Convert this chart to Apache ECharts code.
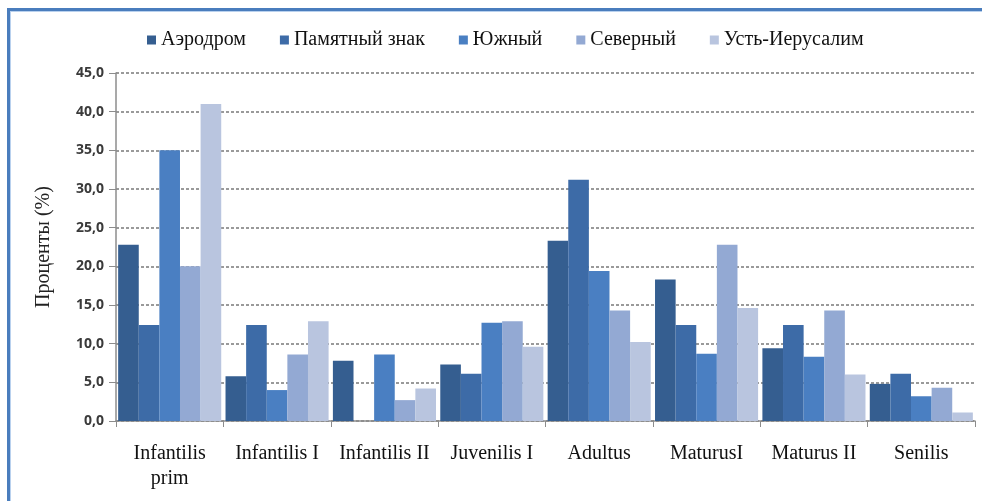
<!DOCTYPE html>
<html>
<head>
<meta charset="utf-8">
<script src="https://cdn.jsdelivr.net/npm/echarts@6/dist/echarts.min.js"></script>
<style>
    html, body { margin: 0; padding: 0; background: #fff; }
    #frame {
        position: absolute; left: 7px; top: 8px; width: 990px; height: 500px;
        border-top: 3px solid #4a7dbd; border-left: 3px solid #4a7dbd;
        box-shadow: inset 1px 1px 0 #b9d1ee;
    }
    #chart { position: absolute; left: 0; top: 0; width: 982px; height: 501px; }
</style>
</head>
<body>
<div id="frame"></div>
<div id="chart"></div>
<script>
const categories = ['Infantilis prim', 'Infantilis I', 'Infantilis II', 'Juvenilis I',
    'Adultus', 'MaturusI', 'Maturus II', 'Senilis'];

const aerodrom   = [22.8, 5.8, 7.8, 7.3, 23.3, 18.3, 9.4, 4.8];
const pamyatny   = [12.4, 12.4, null, 6.1, 31.2, 12.4, 12.4, 6.1];
const yuzhny     = [35.0, 4.0, 8.6, 12.7, 19.4, 8.7, 8.3, 3.2];
const severny    = [20.0, 8.6, 2.7, 12.9, 14.3, 22.8, 14.3, 4.3];
const ustIerusal = [41.0, 12.9, 4.2, 9.6, 10.2, 14.6, 6.0, 1.1];

const seriesNames = ['Аэродром', 'Памятный знак', 'Южный', 'Северный', 'Усть-Иерусалим'];
const seriesData = [aerodrom, pamyatny, yuzhny, severny, ustIerusal];
const colors = ['#355e90', '#3d6ba7', '#4a7fc2', '#93a9d3', '#b9c5df'];

const serif = '"Liberation Serif", "DejaVu Serif", serif';

const myChart = echarts.init(document.getElementById('chart'));

const option = {
    animation: false,
    color: colors,
    legend: {
        top: 25,
        left: 142,
        itemWidth: 9,
        itemHeight: 9,
        itemGap: 34,
        icon: 'rect',
        textStyle: { fontFamily: serif, fontSize: 20, color: '#111' },
        data: seriesNames
    },
    grid: {
        left: 116,
        right: 7,
        top: 73,
        bottom: 80,
        containLabel: false
    },
    xAxis: {
        type: 'category',
        data: categories,
        axisLine: { lineStyle: { color: '#8c8c8c', width: 1.5 } },
        axisTick: { show: true, length: 6, lineStyle: { color: '#8c8c8c' } },
        axisLabel: {
            margin: 20,
            interval: 0,
            fontFamily: serif,
            fontSize: 20,
            color: '#111',
            lineHeight: 25,
            formatter: v => v === 'Infantilis prim' ? 'Infantilis\nprim' : v
        }
    },
    yAxis: {
        type: 'value',
        min: 0,
        max: 45,
        interval: 5,
        name: 'Проценты (%)',
        nameLocation: 'middle',
        nameGap: 62,
        nameTextStyle: { fontFamily: serif, fontSize: 20, color: '#222' },
        axisLine: { show: true, lineStyle: { color: '#8c8c8c', width: 1.5 } },
        axisTick: { show: true, length: 7, lineStyle: { color: '#8c8c8c' } },
        axisLabel: {
            margin: 12,
            fontFamily: '"Open Sans", sans-serif',
            fontWeight: 'bold',
            fontSize: 14,
            color: '#3a3a3a',
            formatter: v => v.toFixed(1).replace('.', ',')
        },
        splitLine: { lineStyle: { color: '#7a7a7a', width: 1.5, type: [3, 2] } }
    },
    series: seriesNames.map((name, i) => ({
        name: name,
        type: 'bar',
        data: seriesData[i],
        barGap: '0%',
        barCategoryGap: '4%',
        itemStyle: { color: colors[i] }
    }))
};

option && myChart.setOption(option);
</script>
</body>
</html>
